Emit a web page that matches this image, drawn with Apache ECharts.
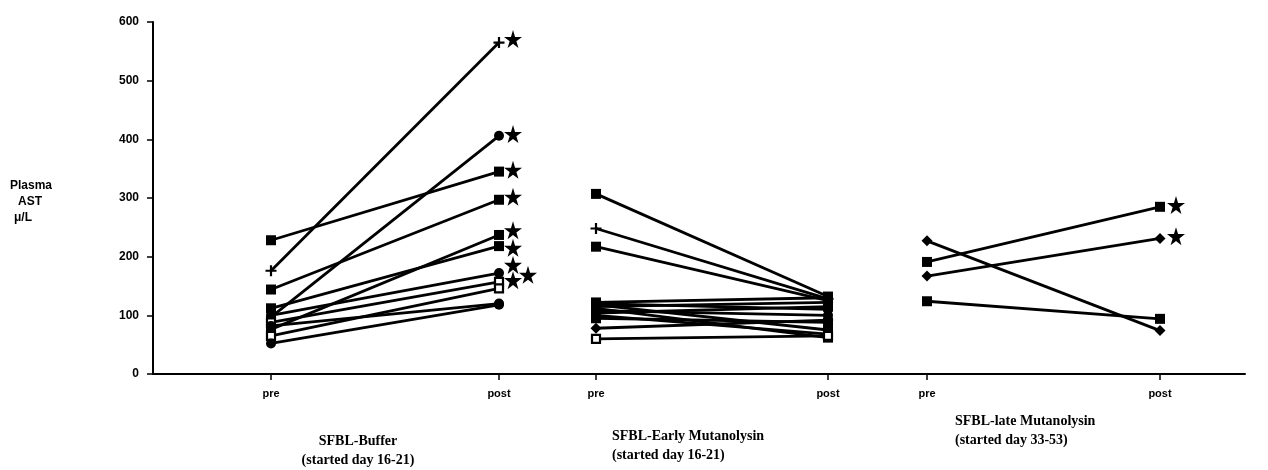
<!DOCTYPE html>
<html>
<head>
<meta charset="utf-8">
<script src="https://cdn.jsdelivr.net/npm/echarts@6/dist/echarts.min.js"></script>
<style>
  html, body { margin: 0; padding: 0; background: #fff; }
  #chart { width: 1268px; height: 470px; }
</style>
</head>
<body>
<div id="chart"></div>
<script>
// ---------------- data ----------------
const phases = ['pre', 'post'];
const groupTitles = ['SFBL-Buffer', 'SFBL-Early Mutanolysin', 'SFBL-late Mutanolysin'];
const groupSubtitles = ['(started day 16-21)', '(started day 16-21)', '(started day 33-53)'];
const yTicks = [0, 100, 200, 300, 400, 500, 600];

// SFBL-Buffer
const bufferPre  = [176, 97, 228, 144, 76, 112, 100, 88, 65, 82, 52];
const bufferPost = [565, 406, 345, 297, 237, 218, 172, 157, 146, 120, 118];
const bufferStars = [571, 409, 348, 302, 245, 215, 186, 160];
const bufferStarsOuter = [169];

// SFBL-Early Mutanolysin
const earlyPre  = [307, 248, 217, 122, 120, 118, 115, 112, 108, 104, 100, 95, 78, 60];
const earlyPost = [132, 128, 125, 130, 110, 75, 122, 62, 100, 115, 68, 88, 92, 65];

// SFBL-late Mutanolysin
const latePre  = [227, 191, 167, 124];
const latePost = [74, 285, 231, 94];
const lateStars = [288, 235];

// ---------------- styles / layout ----------------
const bufferShapes = ['plus', 'circle', 'square', 'square', 'square', 'square', 'circle', 'open', 'open', 'circle', 'circle'];
const earlyShapes  = ['square', 'plus', 'square', 'square', 'circle', 'square', 'circle', 'square', 'circle', 'square', 'circle', 'square', 'diamond', 'open'];
const lateShapes   = ['diamond', 'square', 'diamond', 'square'];

const X_MAX = 1092;
const preX  = [118, 443, 774];
const postX = [346, 675, 1007];
const STAR_OFF = 14;

const PLUS = 'path://M4,0h2v4h4v2h-4v4h-2v-4h-4v-2h4z';
const STAR = 'path://M50,0L61,35L98,35L68,57L79,91L50,70L21,91L32,57L2,35L39,35Z';
const INK = '#000';

function symbolFor(shape) {
  switch (shape) {
    case 'plus': return { symbol: PLUS, symbolSize: 11, itemStyle: { color: INK, opacity: 1 } };
    case 'circle': return { symbol: 'circle', symbolSize: 10, itemStyle: { color: INK, opacity: 1 } };
    case 'diamond': return { symbol: 'diamond', symbolSize: 11, itemStyle: { color: INK, opacity: 1 } };
    case 'open': return { symbol: 'rect', symbolSize: 8, itemStyle: { color: '#fff', borderColor: INK, borderWidth: 2.2, opacity: 1 } };
    default: return { symbol: 'rect', symbolSize: 10, itemStyle: { color: INK, opacity: 1 } };
  }
}

const series = [];
function addGroup(g, pre, post, shapes) {
  for (let i = 0; i < pre.length; i++) {
    const s = symbolFor(shapes[i]);
    series.push({
      type: 'line',
      data: [[preX[g], pre[i]], [postX[g], post[i]]],
      symbol: s.symbol,
      symbolSize: s.symbolSize,
      itemStyle: s.itemStyle,
      lineStyle: { color: INK, width: 2.8 },
      z: 3
    });
  }
}
addGroup(0, bufferPre, bufferPost, bufferShapes);
addGroup(1, earlyPre, earlyPost, earlyShapes);
addGroup(2, latePre, latePost, lateShapes);

function addStars(x, values) {
  series.push({
    type: 'scatter',
    data: values.map(v => [x, v]),
    symbol: STAR,
    symbolSize: 18,
    itemStyle: { color: INK, opacity: 1 },
    z: 4
  });
}
addStars(postX[0] + STAR_OFF, bufferStars);
addStars(postX[0] + STAR_OFF + 15, bufferStarsOuter);
addStars(postX[2] + STAR_OFF + 2, lateStars);

const tickPositions = [];
const tickNames = {};
for (let g = 0; g < 3; g++) {
  tickPositions.push(preX[g], postX[g]);
  tickNames[preX[g]] = phases[0];
  tickNames[postX[g]] = phases[1];
}

const yLabelFont = { fontFamily: 'Liberation Sans, Arial, sans-serif', fontWeight: 'bold', fontSize: 12, color: INK };
const xLabelFont = { fontFamily: 'Liberation Sans, Arial, sans-serif', fontWeight: 'bold', fontSize: 11, color: INK };
const serifFont = 'Liberation Serif, Times New Roman, serif';
const nameFont = 'bold 12px Liberation Sans, Arial, sans-serif';

const graphic = [
  { type: 'text', left: 10, top: 180, style: { text: 'Plasma', font: nameFont, fill: INK } },
  { type: 'text', left: 18, top: 196, style: { text: 'AST', font: nameFont, fill: INK } },
  { type: 'text', left: 14, top: 212, style: { text: 'μ/L', font: nameFont, fill: INK } },
  { type: 'text', x: 358, y: 441, style: { text: groupTitles[0], font: 'bold 14px ' + serifFont, fill: INK, align: 'center', verticalAlign: 'middle' } },
  { type: 'text', x: 358, y: 460, style: { text: groupSubtitles[0], font: 'bold 14px ' + serifFont, fill: INK, align: 'center', verticalAlign: 'middle' } },
  { type: 'text', x: 612, y: 436, style: { text: groupTitles[1], font: 'bold 14px ' + serifFont, fill: INK, align: 'left', verticalAlign: 'middle' } },
  { type: 'text', x: 612, y: 455, style: { text: groupSubtitles[1], font: 'bold 14px ' + serifFont, fill: INK, align: 'left', verticalAlign: 'middle' } },
  { type: 'text', x: 955, y: 421, style: { text: groupTitles[2], font: 'bold 14px ' + serifFont, fill: INK, align: 'left', verticalAlign: 'middle' } },
  { type: 'text', x: 955, y: 440, style: { text: groupSubtitles[2], font: 'bold 14px ' + serifFont, fill: INK, align: 'left', verticalAlign: 'middle' } }
];

const chart = echarts.init(document.getElementById('chart'), null, { renderer: 'canvas' });
chart.setOption({
  animation: false,
  backgroundColor: '#fff',
  grid: { left: 153, right: 23, top: 22, bottom: 96 },
  xAxis: {
    type: 'value',
    min: 0,
    max: X_MAX,
    splitLine: { show: false },
    axisLine: { show: true, lineStyle: { color: INK, width: 2 } },
    axisTick: { show: true, customValues: tickPositions, length: 6, lineStyle: { color: INK, width: 1.5 } },
    axisLabel: Object.assign({ customValues: tickPositions, margin: 14, formatter: v => tickNames[v] || '' }, xLabelFont)
  },
  yAxis: {
    type: 'value',
    min: yTicks[0],
    max: yTicks[yTicks.length - 1],
    interval: 100,
    splitLine: { show: false },
    axisLine: { show: true, lineStyle: { color: INK, width: 2 } },
    axisTick: { show: true, length: 6, lineStyle: { color: INK, width: 1.5 } },
    axisLabel: Object.assign({ margin: 14 }, yLabelFont)
  },
  graphic: graphic,
  series: series
});
</script>
</body>
</html>
